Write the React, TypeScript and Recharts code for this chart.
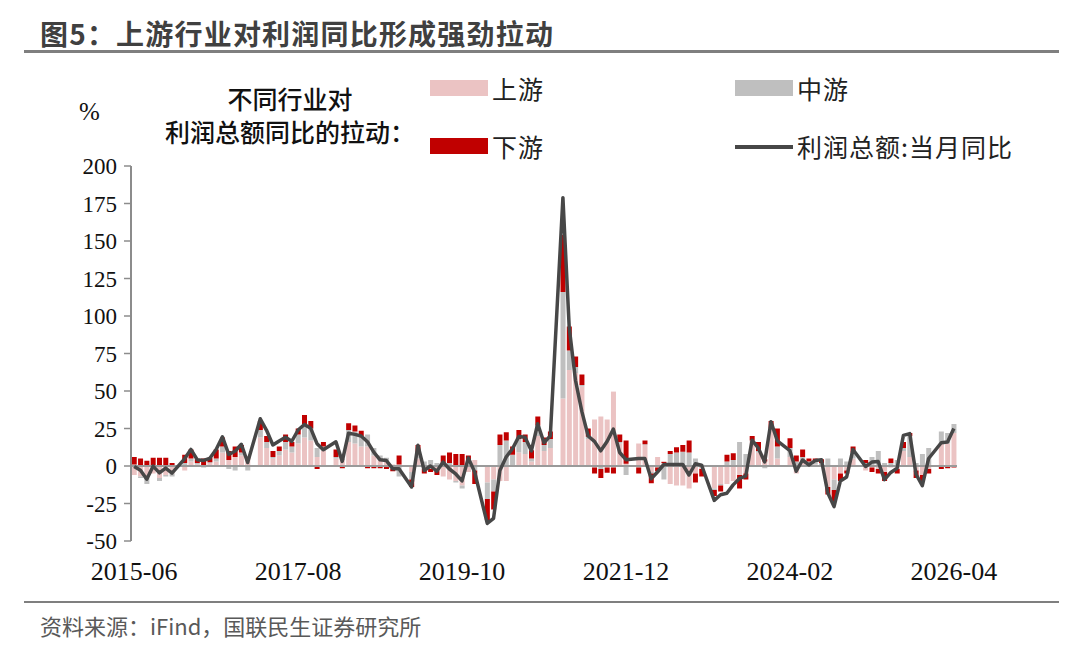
import React from 'react';
import { ComposedChart, Bar, Line, XAxis, YAxis, ReferenceLine } from 'recharts';

// monthly categories 2015-06 .. 2026-04 (January folded into Feb, so Jan is empty)
const months: string[] = [];
for (let y = 2015, m = 6; y < 2026 || (y === 2026 && m <= 4); m++) {
  if (m > 12) { m = 1; y++; }
  months.push(`${y}-${String(m).padStart(2, '0')}`);
}

// 利润总额:当月同比
const total = [
  -0.3, -2.9, -8.8, -0.1, -4.6, -1.4, -4.7,
  null, 4.8, 11.1, 4.2, 3.7, 5.1, 11.0, 19.5, 7.7, 9.8, 14.5, 2.3,
  null, 31.5, 23.8, 14.0, 16.7, 19.1, 16.5, 24.0, 27.7, 25.1, 14.9, 10.8,
  null, 16.1, 3.1, 21.9, 21.1, 20.0, 16.2, 9.2, 4.1, 3.6, -1.8, -1.9,
  null, -14.0, 13.9, -3.0, 0.0, -3.5, 2.6, -2.0, -5.3, -9.9, 5.4, -4.0,
  null, -38.3, -34.9, -3.0, 6.0, 11.5, 19.6, 19.1, 10.1, 28.2, 15.5, 20.1,
  null, 178.9, 92.3, 57.0, 36.4, 20.0, 16.4, 10.1, 16.3, 24.6, 9.0, 4.2,
  null, 5.0, 5.0, -8.5, -4.0, 1.0, 1.0, 1.0, 1.0, -6.0, 1.5, 0.5,
  null, -22.9, -19.2, -18.2, -12.6, -8.3, -6.7, 17.2, 11.9, 2.7, 29.5, 16.8,
  null, 10.2, -3.5, 4.0, 0.7, 3.6, 4.1, -17.8, -27.1, -10.0, -7.3, 11.0,
  null, -0.3, 2.6, 3.0, -9.1, -4.3, -1.5, 20.4, 21.6, -5.5, -13.1, 5.0,
  null, 15.5, 16.0, 25.0,
];

// 上游
const upstream = [
  -6, -7, -8, -5, -8, -6, -5,
  null, -3, 3, 1, 0, 2, 3, 9, 4, 6, 7, 5,
  null, 19, 12, 5, 7, 11, 9, 15, 19, 17, 6, 10,
  null, 5, 4, 16, 15, 13, 13, 7, 4, 3, 1, 1,
  null, -4, 5, -2, -2, -3, -7, -9, -10, -13, -4, 4,
  null, -11, -9, -10, -10, 0.5, 9, 8, 3, 20, 10, 12,
  null, 45, 64, 62, 53, 18, 31, 33, 31, 49.6, 15, 1.5,
  null, 15, 14, -4, 6, 2, -12, -13, -13, -15, -5, -2,
  null, -15, -12, -12, -10, -6, -5, 16, 9, 3, 24, 5,
  null, 6, -5, 2, 1, 1, 0, -14, -9, -5, -3, 5,
  null, -3, -1, -2, -4, -1, -2, 10, 6, -3, -6, -2,
  null, 15, 15, 22,
];

// 中游
const midstream = [
  1, -1, -4, 0.5, -2, -1, -2,
  null, 2, 2, 1, -1, 0.5, 2, 4, -2, -3, 2, -3,
  null, 5, 4, 1, 3, 5, 4, 6, 9, 8, 6, 3,
  null, 1, 1, 8, 8, 7, 8, 5, 3, 2.5, -2, -7,
  null, -5, 4, 3, 4, 2, 2, 2, -1, -2, 2, -3,
  null, -11, -8, 14, 17, 7, 9, 8, 2, 7, 4, 6,
  null, 71, 13, 4, 1, 1.5, -1, -2, -1, -1, 1, -6,
  null, -1, 0.5, -1, -1, -9, 8, 9, 9.5, 9, 5, 1,
  null, -1, -1, 3, 4, 16, 8, 1, 1, -1.5, 1, 8,
  null, 6, 3, 4, 2, 2, 2, 5, -7, 5, 3, 4,
  null, 2, 6, 10, 2, 2, 4, 2, 14, 2, 8, 12,
  null, 8, 7, 6,
];

// 下游
const downstream = [
  5, 5, 3.5, 5, 5.5, 5.5, 2,
  null, 5.5, 6, 2.5, 5, 3, 6, 6, 6, 7, 5, 1,
  null, 6, 4, 4, 3, 5, 3, 4, 6, 5, -2, 3,
  null, 5, -1.5, 4.5, 4, 3.5, -1.5, -1.5, -1.5, -2, -1.5, 6,
  null, -5, 5, -3, -2, -3, 5, 7, 8, 8, 5, -9,
  null, -14, -12, 7, 5.5, 5.5, 6, 5, 5.5, 6, 5, 5,
  null, 38, 16, 7, 7, 5.5, -4, -6, -3.5, -4, 5, 15.5,
  null, -4, 2.5, -6.5, -2.5, 0.8, 2, 3.5, 4.5, 8, -6, -5,
  null, -4, -4, 4.5, 4.5, -9, -4, 3, 6, 1.5, 5, 12,
  null, 6.5, 4, 5, 2, 2, 2.5, -5, -8, -5, -2, 4,
  null, 2, -3, -3, -6, 3, -3, 4, 2, -5, -4, -3,
  null, -2, -1.5, -1,
];

const yTicks = [-50, -25, 0, 25, 50, 75, 100, 125, 150, 175, 200];

const data = months.map((month, i) => ({
  month,
  up: upstream[i],
  mid: midstream[i],
  down: downstream[i],
  total: total[i],
}));

const PINK = '#EBC3C3';
const GRAY = '#BFBFBF';
const RED = '#C00000';
const LINE = '#474747';
const SERIF = "'Liberation Serif', 'Times New Roman', serif";
const CJK = "'Noto Sans CJK SC', sans-serif";

const legendText: React.CSSProperties = {
  position: 'absolute', fontFamily: CJK, fontSize: 25, color: '#222', lineHeight: '28px', letterSpacing: 1,
};

export default function App() {
  return (
    <div style={{ position: 'absolute', left: 0, top: 0, width: 1080, height: 645, background: '#fff', overflow: 'hidden' }}>
      <div style={{ position: 'absolute', left: 40, top: 13, fontFamily: CJK, fontWeight: 700, fontSize: 28, color: '#404040', letterSpacing: 1.2 }}>
        图5：上游行业对利润同比形成强劲拉动
      </div>
      <div style={{ position: 'absolute', left: 24, top: 50, width: 1035, height: 3, background: '#7f7f7f' }} />

      <div style={{ position: 'absolute', left: 150, width: 280, top: 82, textAlign: 'center', fontFamily: CJK, fontSize: 25, fontWeight: 500, color: '#111', lineHeight: '33px' }}>
        不同行业对<br />利润总额同比的拉动：
      </div>
      <div style={{ position: 'absolute', left: 79, top: 98, fontFamily: SERIF, fontSize: 25, color: '#111' }}>%</div>

      <div style={{ position: 'absolute', left: 430, top: 80, width: 58, height: 16, background: PINK }} />
      <div style={{ ...legendText, left: 492, top: 74 }}>上游</div>
      <div style={{ position: 'absolute', left: 735, top: 80, width: 58, height: 16, background: GRAY }} />
      <div style={{ ...legendText, left: 797, top: 74 }}>中游</div>
      <div style={{ position: 'absolute', left: 430, top: 138, width: 58, height: 16, background: RED }} />
      <div style={{ ...legendText, left: 492, top: 132 }}>下游</div>
      <div style={{ position: 'absolute', left: 735, top: 145, width: 58, height: 4, background: LINE }} />
      <div style={{ ...legendText, left: 797, top: 132 }}>利润总额:当月同比</div>

      <div style={{ position: 'absolute', left: 0, top: 0 }}>
        <ComposedChart
          width={1080}
          height={645}
          data={data}
          stackOffset="sign"
          barCategoryGap="12%"
          margin={{ top: 166, right: 123, bottom: 64, left: 0 }}
        >
          <XAxis
            dataKey="month"
            interval={25}
            axisLine={false}
            tickLine={false}
            tickSize={0}
            tickMargin={21}
            height={40}
            tick={{ fontSize: 26, fill: '#111', fontFamily: SERIF }}
          />
          <YAxis
            width={131}
            domain={[-50, 200]}
            ticks={yTicks}
            interval={0}
            axisLine={{ stroke: '#8c8c8c', strokeWidth: 2 }}
            tickLine={{ stroke: '#8c8c8c', strokeWidth: 1.5 }}
            tickSize={7}
            tickMargin={7}
            tick={{ fontSize: 23, fill: '#111', fontFamily: SERIF }}
          />
          <Bar dataKey="up" stackId="a" fill={PINK} isAnimationActive={false} />
          <Bar dataKey="mid" stackId="a" fill={GRAY} isAnimationActive={false} />
          <Bar dataKey="down" stackId="a" fill={RED} isAnimationActive={false} />
          <ReferenceLine y={0} stroke="#9a9a9a" strokeWidth={2} />
          <Line
            dataKey="total"
            type="linear"
            stroke={LINE}
            strokeWidth={3.5}
            strokeLinejoin="round"
            dot={false}
            connectNulls
            isAnimationActive={false}
          />
        </ComposedChart>
      </div>

      <div style={{ position: 'absolute', left: 24, top: 601, width: 1035, height: 2, background: '#7f7f7f' }} />
      <div style={{ position: 'absolute', left: 40, top: 609, fontFamily: CJK, fontSize: 22, color: '#595959' }}>
        资料来源：iFind，国联民生证券研究所
      </div>
    </div>
  );
}
